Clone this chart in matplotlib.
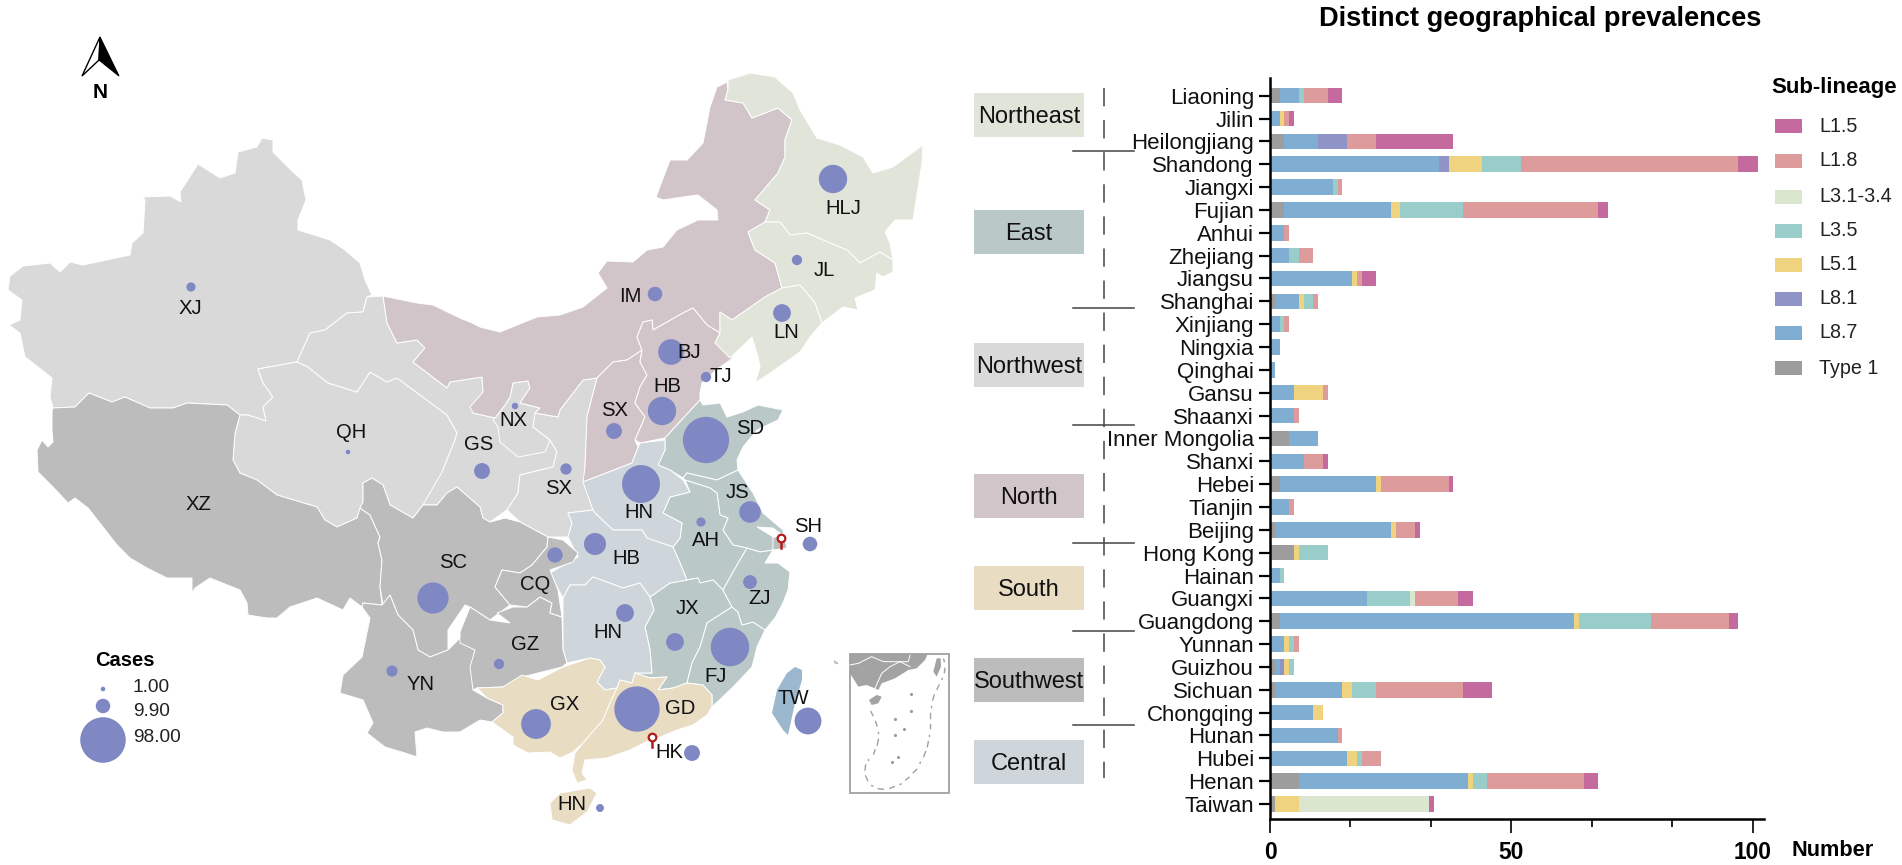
#!/usr/bin/env python3
import numpy as np
import matplotlib
matplotlib.use("Agg")
import matplotlib.pyplot as plt
from matplotlib.patches import Polygon, Rectangle

plt.rcParams['font.family'] = ['Liberation Sans', 'DejaVu Sans']

# bars: one row per province, top to bottom
provinces = ["Liaoning", "Jilin", "Heilongjiang", "Shandong", "Jiangxi", "Fujian", "Anhui",
             "Zhejiang", "Jiangsu", "Shanghai", "Xinjiang", "Ningxia", "Qinghai", "Gansu",
             "Shaanxi", "Inner Mongolia", "Shanxi", "Hebei", "Tianjin", "Beijing", "Hong Kong",
             "Hainan", "Guangxi", "Guangdong", "Yunnan", "Guizhou", "Sichuan", "Chongqing",
             "Hunan", "Hubei", "Henan", "Taiwan"]
type1 = [2, 0, 3, 0, 0, 3, 0, 0, 0, 1, 0, 0, 0, 0, 0, 4, 0, 2, 0, 1, 5, 0, 0, 2, 0, 1, 1, 0, 0, 0, 6, 1]
l87 = [4, 2, 7, 35, 13, 22, 3, 4, 17, 5, 2, 2, 1, 5, 5, 6, 7, 20, 4, 24, 0, 2, 20, 61, 3, 1, 14, 9, 14, 16, 35, 0]
l81 = [0, 0, 6, 2, 0, 0, 0, 0, 0, 0, 0, 0, 0, 0, 0, 0, 0, 0, 0, 0, 0, 0, 0, 0, 0, 1, 0, 0, 0, 0, 0, 0]
l51 = [0, 1, 0, 7, 0, 2, 0, 0, 1, 1, 0, 0, 0, 6, 0, 0, 0, 1, 0, 1, 1, 0, 0, 1, 1, 1, 2, 2, 0, 2, 1, 5]
l35 = [1, 0, 0, 8, 1, 13, 0, 2, 0, 2, 1, 0, 0, 0, 0, 0, 0, 0, 0, 0, 6, 1, 9, 15, 1, 1, 5, 0, 0, 1, 3, 0]
l31 = [0, 0, 0, 0, 0, 0, 0, 0, 0, 0, 0, 0, 0, 0, 0, 0, 0, 0, 0, 0, 0, 0, 1, 0, 0, 0, 0, 0, 0, 0, 0, 27]
l18 = [5, 1, 6, 45, 1, 28, 1, 3, 1, 1, 1, 0, 0, 1, 1, 0, 4, 14, 1, 4, 0, 0, 9, 16, 1, 0, 18, 0, 1, 4, 20, 0]
l15 = [3, 1, 16, 4, 0, 2, 0, 0, 3, 0, 0, 0, 0, 0, 0, 0, 1, 1, 0, 1, 0, 0, 3, 2, 0, 0, 6, 0, 0, 0, 3, 1]

stack_names = ["Type 1", "L8.7", "L8.1", "L5.1", "L3.5", "L3.1-3.4", "L1.8", "L1.5"]
stack_values = [type1, l87, l81, l51, l35, l31, l18, l15]
stack_colors = ["#9d9d9d", "#80aed3", "#9093c6", "#f0d37e", "#99cdc9", "#dbe6cf", "#dd9b9b", "#c56a9f"]
legend_order = ["L1.5", "L1.8", "L3.1-3.4", "L3.5", "L5.1", "L8.1", "L8.7", "Type 1"]

regions = ["Northeast", "East", "Northwest", "North", "South", "Southwest", "Central"]
region_colors = ["#e1e5d9", "#bac8c8", "#d9d9d9", "#d2c5c9", "#e8dcc3", "#bcbcbc", "#ced5db"]
region_box_y = [93, 210, 343, 474, 566, 658, 740]
region_rules = [151, 308, 425, 543, 631, 725]
legend_y = [126, 161, 197, 231, 265, 299, 333, 368]

# map outlines, in image pixels
XJ = [(262,138),(273,140),(273,152),(293,172),(302,180),(306,200),(298,220),(298,230),(330,240),(345,250),(360,263),(365,280),(372,295),(367,297),(363,312),(347,313),(325,330),(310,333),(297,362),(258,369),(263,383),(273,397),(263,407),(266,421),(248,415),(240,415),(227,405),(187,403),(173,408),(150,408),(125,397),(112,402),(89,393),(75,407),(53,408),(50,397),(52,378),(33,363),(25,357),(20,333),(9,325),(20,320),(22,300),(8,290),(10,276),(23,266),(50,263),(60,272),(70,262),(83,265),(130,255),(132,243),(143,233),(145,200),(142,197),(170,196),(181,202),(180,192),(198,164),(220,178),(235,173),(238,152),(257,147)]
QH = [(258,369),(297,362),(308,367),(328,383),(357,392),(370,372),(387,382),(397,378),(420,395),(447,415),(457,433),(455,440),(442,472),(447,488),(437,505),(423,505),(413,518),(390,505),(383,485),(372,478),(363,483),(363,502),(357,518),(337,527),(325,520),(317,507),(277,495),(257,480),(240,473),(233,460),(235,433),(240,415),(248,415),(266,421),(263,407),(273,397),(263,383)]
GS = [(367,297),(383,296),(387,323),(397,343),(417,340),(425,348),(413,362),(447,388),(450,382),(482,377),(483,392),(472,407),(473,413),(495,418),(505,405),(510,397),(513,383),(528,381),(530,388),(520,403),(540,408),(535,413),(533,427),(550,440),(557,452),(553,467),(520,475),(518,493),(507,510),(490,522),(483,518),(480,507),(457,487),(447,493),(437,505),(423,505),(442,472),(455,440),(457,433),(447,415),(420,395),(397,378),(387,382),(370,372),(357,392),(328,383),(308,367),(297,362),(310,333),(325,330),(347,313),(363,312)]
NX = [(513,383),(528,381),(530,388),(520,403),(540,408),(535,413),(533,427),(550,440),(545,452),(518,457),(500,442),(498,427),(493,420),(505,405),(510,397)]
SN = [(597,378),(583,380),(560,410),(558,417),(535,413),(533,427),(550,440),(557,452),(553,467),(520,475),(518,493),(507,510),(520,522),(548,537),(568,537),(572,523),(568,513),(593,510),(585,483),(585,467),(587,417)]
IM = [(383,296),(417,303),(433,305),(460,318),(470,322),(480,327),(500,332),(537,317),(560,315),(583,307),(607,288),(598,273),(607,261),(633,262),(647,250),(663,247),(677,230),(698,220),(718,220),(717,210),(698,195),(683,197),(663,200),(656,197),(670,160),(687,160),(703,143),(710,107),(717,87),(727,82),(728,90),(725,100),(743,103),(752,118),(778,108),(792,120),(785,140),(785,157),(778,173),(755,200),(770,210),(765,222),(748,232),(755,250),(775,263),(782,288),(765,297),(732,320),(720,312),(720,333),(707,325),(693,308),(683,313),(653,330),(652,320),(643,322),(637,337),(642,350),(627,360),(613,362),(597,378),(583,380),(560,410),(558,417),(535,413),(540,408),(520,403),(530,388),(528,381),(513,383),(510,397),(505,405),(495,418),(473,413),(470,407),(483,392),(482,377),(450,382),(447,388),(413,362),(425,348),(417,340),(397,343),(387,323)]
SX = [(597,378),(613,362),(627,360),(642,350),(640,362),(647,375),(640,387),(635,403),(645,417),(635,440),(638,447),(637,450),(632,463),(583,482),(585,467),(587,417)]
HE = [(643,322),(652,320),(653,330),(683,313),(693,308),(707,325),(720,333),(715,343),(733,358),(716,370),(702,383),(700,393),(700,400),(665,438),(640,443),(635,440),(645,417),(635,403),(640,387),(647,375),(640,362),(642,350),(637,337)]
HLJ = [(728,80),(750,73),(775,77),(793,93),(800,110),(817,138),(840,145),(863,157),(873,173),(893,167),(923,145),(922,163),(913,220),(895,220),(885,232),(890,243),(893,260),(880,252),(860,263),(847,250),(830,243),(807,233),(790,235),(780,222),(765,222),(770,210),(755,200),(778,173),(785,157),(785,140),(792,120),(778,108),(752,118),(743,103),(725,100),(728,90)]
JL = [(748,232),(765,222),(780,222),(790,235),(807,233),(830,243),(847,250),(860,263),(880,252),(893,260),(893,272),(883,277),(890,282),(877,273),(875,290),(855,298),(858,310),(843,307),(822,323),(815,303),(800,285),(782,288),(775,263),(755,250)]
LN = [(782,288),(800,285),(815,303),(822,323),(810,337),(800,352),(770,373),(755,383),(760,367),(758,357),(752,337),(730,358),(715,343),(720,333),(720,312),(732,320),(765,297)]
SD = [(700,400),(703,405),(720,403),(727,417),(743,412),(758,405),(783,410),(778,420),(757,430),(743,447),(737,460),(738,470),(717,480),(687,473),(683,478),(670,470),(658,465),(665,450),(665,438)]
HA = [(583,482),(632,463),(637,450),(640,443),(665,440),(665,450),(658,465),(670,470),(683,480),(690,492),(670,497),(663,513),(682,523),(680,538),(673,547),(647,538),(642,530),(613,530),(595,513),(593,510)]
HB = [(568,513),(593,510),(595,513),(613,530),(642,530),(647,538),(673,547),(680,563),(687,580),(670,583),(650,597),(640,583),(623,588),(607,582),(593,577),(585,585),(570,585),(563,598),(557,587),(550,573),(578,557),(568,537),(572,523)]
CQ = [(548,537),(563,540),(578,553),(573,562),(550,570),(558,590),(562,617),(550,613),(552,603),(540,597),(527,607),(510,605),(495,587),(502,570),(520,573),(532,565),(547,547)]
XZ = [(53,408),(75,407),(89,393),(112,402),(125,397),(150,408),(173,408),(187,403),(227,405),(240,415),(235,433),(233,460),(240,473),(257,480),(277,495),(317,507),(325,520),(337,527),(357,518),(360,508),(370,515),(380,537),(378,543),(382,560),(380,587),(382,605),(363,603),(362,607),(350,598),(343,610),(317,598),(290,607),(277,618),(267,618),(248,615),(247,603),(240,590),(210,578),(195,588),(192,593),(192,578),(167,578),(147,568),(130,558),(117,545),(103,527),(88,508),(75,498),(68,503),(53,487),(38,472),(37,450),(42,440),(48,447),(53,442),(52,430),(52,412)]
SC = [(372,478),(383,485),(390,505),(413,518),(423,505),(437,505),(447,493),(457,487),(480,507),(483,518),(490,522),(505,518),(520,522),(548,537),(547,547),(532,565),(520,573),(502,570),(495,587),(510,605),(490,620),(470,607),(465,605),(448,630),(448,650),(430,657),(418,650),(413,630),(398,615),(390,595),(383,605),(380,587),(382,560),(378,543),(380,537),(370,515),(360,508),(363,502),(363,483)]
YN = [(363,603),(382,605),(390,595),(398,615),(413,630),(418,650),(430,657),(448,650),(460,638),(470,647),(475,650),(472,665),(478,677),(473,690),(487,698),(503,705),(503,713),(492,722),(480,720),(460,732),(443,732),(427,728),(415,732),(417,757),(405,753),(385,747),(367,733),(373,723),(363,700),(340,693),(343,675),(362,657),(370,618),(362,607)]
GZ = [(460,632),(470,607),(490,620),(510,623),(497,613),(513,607),(527,607),(540,597),(552,603),(550,613),(562,617),(563,650),(567,663),(562,667),(522,677),(503,687),(477,688),(473,690),(470,667),(475,650),(460,643)]
GX = [(477,688),(503,687),(522,675),(538,680),(563,667),(590,658),(600,660),(605,667),(597,682),(605,690),(617,688),(610,703),(603,720),(583,743),(573,752),(560,758),(550,752),(528,753),(513,745),(513,737),(492,722),(503,713),(503,705),(487,698)]
GD = [(617,688),(620,680),(632,683),(635,673),(650,678),(667,677),(658,690),(673,688),(687,683),(703,685),(712,695),(712,707),(707,715),(693,725),(677,730),(660,737),(650,740),(630,750),(607,758),(585,760),(582,773),(587,780),(577,783),(572,770),(575,753),(583,743),(603,720),(610,703)]
HI = [(550,803),(560,793),(590,788),(597,793),(587,812),(570,825),(552,820)]
HN = [(563,598),(570,585),(585,585),(593,577),(607,582),(623,588),(640,583),(650,597),(654,610),(645,627),(650,650),(652,673),(635,673),(632,683),(620,680),(617,688),(605,690),(597,682),(605,667),(600,660),(590,658),(567,663),(563,650)]
JX = [(650,597),(670,583),(687,580),(698,578),(700,583),(713,580),(723,590),(732,607),(707,623),(700,647),(692,663),(687,683),(673,688),(658,690),(667,677),(650,678),(635,673),(652,673),(650,650),(645,627),(654,610)]
FJ = [(732,607),(738,612),(742,625),(753,622),(765,630),(757,647),(752,667),(733,687),(712,707),(712,695),(703,685),(687,683),(692,663),(700,647),(707,623)]
ZJ = [(723,590),(737,565),(747,548),(760,552),(773,550),(765,563),(778,563),(790,572),(788,590),(783,603),(775,618),(765,630),(753,622),(742,625),(738,612),(732,607)]
AH = [(670,497),(690,492),(685,480),(710,488),(717,493),(720,515),(728,518),(723,530),(733,545),(747,548),(737,565),(723,590),(713,580),(700,583),(698,578),(687,580),(680,563),(673,547),(680,538),(682,523),(663,513)]
JS = [(683,478),(687,473),(717,480),(738,470),(753,493),(763,513),(783,530),(785,537),(773,528),(757,527),(775,538),(773,550),(760,552),(747,548),(733,545),(723,530),(728,518),(720,515),(717,493),(710,488),(685,480)]
SH = [(773,538),(783,533),(787,548),(773,550)]
TW = [(795,667),(802,670),(802,680),(795,703),(788,735),(783,730),(772,713),(777,690),(787,673)]
islet = [(833,659),(838,662),(839,665),(834,664)]

map_shapes = [(XJ, 2), (QH, 2), (GS, 2), (NX, 2), (SN, 2),
              (IM, 3), (SX, 3), (HE, 3),
              (HLJ, 0), (JL, 0), (LN, 0),
              (SD, 1), (JS, 1), (AH, 1), (JX, 1), (FJ, 1), (ZJ, 1),
              (HA, 6), (HB, 6), (HN, 6),
              (XZ, 5), (SC, 5), (YN, 5), (GZ, 5), (CQ, 5), (SH, 5), (islet, 5),
              (GX, 4), (GD, 4), (HI, 4)]

# bubbles: abbreviation, province, bubble centre, label centre
bubble_names = ["XJ", "QH", "GS", "SX", "NX", "SC", "YN", "GZ", "CQ", "HB", "HN", "AH", "JS", "SH", "ZJ",
                "JX", "FJ", "HN", "GX", "GD", "HK", "HN", "TW", "HLJ", "JL", "LN", "IM", "BJ", "TJ", "HB", "SX", "SD"]
bubble_prov = ["Xinjiang", "Qinghai", "Gansu", "Shaanxi", "Ningxia", "Sichuan", "Yunnan", "Guizhou", "Chongqing",
               "Hubei", "Henan", "Anhui", "Jiangsu", "Shanghai", "Zhejiang", "Jiangxi", "Fujian", "Hunan", "Guangxi",
               "Guangdong", "Hong Kong", "Hainan", "Taiwan", "Heilongjiang", "Jilin", "Liaoning", "Inner Mongolia",
               "Beijing", "Tianjin", "Hebei", "Shanxi", "Shandong"]
bubble_xy = [(191,287), (348,452), (482,471), (566,469), (515,406), (433,598), (392,671), (499,664), (555,555),
             (595,544), (641,484), (701,522), (750,512), (810,544), (750,582), (675,642), (730,647), (625,613),
             (536,724), (637,709), (692,753), (600,808), (808,721), (833,179), (797,260), (782,313), (655,294),
             (671,352), (706,377), (662,411), (614,431), (706,440)]
label_xy = [(190,308), (351,433), (479,444), (559,489), (513,421), (453,563), (421,685), (525,645), (535,584),
            (626,558), (639,513), (706,541), (737,493), (808,527), (760,599), (687,609), (716,676), (608,632),
            (565,704), (680,709), (669,752), (572,805), (793,699), (843,208), (824,270), (786,333), (630,296),
            (689,352), (721,377), (667,387), (615,411), (750,429)]
extra_labels = [("XZ", 198, 505)]

size_values = [1.00, 9.90, 98.00]
size_labels = ["1.00", "9.90", "98.00"]
size_xy = [(103,689), (103,706), (103,740)]
size_label_y = [688, 711, 738]
pins = [(781,538), (652,737)]

inset_land = [(15,12),(248,12),(240,30),(215,55),(190,60),(150,85),(110,100),(100,120),(90,115),(65,105),(40,110),(15,70)]
inset_hainan = [(72,150),(95,135),(110,140),(100,160),(80,165)]
inset_tw = [(275,25),(287,25),(288,50),(275,80),(265,65)]
inset_borders = [[(15,45),(40,40),(80,20),(115,35),(165,35),(195,50)], [(90,115),(110,70),(135,50),(165,35)], [(195,15),(190,35),(165,35)]]
inset_dash = [[(78,185),(84,197)], [(92,215),(96,228)], [(100,245),(100,248)], [(100,268),(97,285)], [(90,300),(86,312)],
              [(70,328),(70,331)], [(62,345),(60,360)], [(62,378),(68,392)], [(80,407),(83,408)], [(100,416),(115,418)],
              [(135,415),(148,410)], [(165,403),(168,402)], [(182,390),(192,382)], [(205,368),(215,358)], [(225,340),(226,337)],
              [(236,320),(242,305)], [(247,290),(250,275)], [(252,258),(252,255)], [(254,235),(254,222)], [(255,205),(255,190)],
              [(257,170),(257,167)], [(263,150),(268,135)], [(276,118),(282,105)], [(291,88),(292,85)], [(298,68),(300,55)], [(298,35),(296,28)]]
inset_islets = [(197,132),(197,184),(150,207),(178,237),(151,255),(158,320),(141,336)]


def inset_px(points):
    return [(845 + x / 3, 650 + y / 3) for x, y in points]


fig = plt.figure(figsize=(19.02, 8.65), dpi=100)
ax = fig.add_axes([0, 0, 1, 1])
ax.set_xlim(0, 1902)
ax.set_ylim(865, 0)
ax.axis('off')

for shape, region in map_shapes:
    ax.add_patch(Polygon(shape, closed=True, facecolor=region_colors[region], edgecolor='white', lw=0.7))
ax.add_patch(Polygon(TW, closed=True, facecolor="#9bb8cf", edgecolor='none'))

totals = dict(zip(provinces, np.sum(stack_values, axis=0)))
CASE_AREA = (2 * 2.3 * 0.72) ** 2  # marker area for one case
bubble_color = "#8088c4"
ax.scatter([p[0] for p in bubble_xy], [p[1] for p in bubble_xy],
           s=[totals[p] * CASE_AREA for p in bubble_prov], color=bubble_color, lw=0, zorder=3)
for name, (x, y) in zip(bubble_names, label_xy):
    ax.text(x, y, name, ha='center', va='center', fontsize=14.6, color='#111111', zorder=4)
for name, x, y in extra_labels:
    ax.text(x, y, name, ha='center', va='center', fontsize=14.6, color='#111111', zorder=4)

# hong kong / shanghai pins
for x, y in pins:
    ax.plot([x, x], [y, y + 10], color="#b01c1c", lw=1.8, zorder=5)
    ax.scatter([x], [y], s=30, facecolor='white', edgecolor="#b01c1c", lw=1.6, zorder=6)

# size legend
ax.text(125, 661, "Cases", ha='center', va='center', fontsize=14.5, fontweight='bold')
ax.scatter([p[0] for p in size_xy], [p[1] for p in size_xy], s=[v * CASE_AREA for v in size_values],
           color=bubble_color, lw=0, zorder=3)
for lab, y in zip(size_labels, size_label_y):
    ax.text(133, y, lab, ha='left', va='center', fontsize=13.8, color='#222222')

# north arrow
ax.add_patch(Polygon([(100,37),(82,76),(99,60)], closed=True, facecolor='white', edgecolor='black', lw=1.0))
ax.add_patch(Polygon([(100,37),(119,76),(99,60)], closed=True, facecolor='black', edgecolor='black', lw=0.8))
ax.text(100, 93, "N", ha='center', va='center', fontsize=15, fontweight='bold')

# inset
for shape in [inset_land, inset_hainan, inset_tw]:
    ax.add_patch(Polygon(inset_px(shape), closed=True, facecolor="#a3a3a3", edgecolor='none'))
for line in inset_borders:
    pts = inset_px(line)
    ax.plot([p[0] for p in pts], [p[1] for p in pts], color='white', lw=0.7)
for line in inset_dash:
    pts = inset_px(line)
    ax.plot([p[0] for p in pts], [p[1] for p in pts], color='#a0a0a0', lw=1.0)
pts = inset_px(inset_islets)
ax.scatter([p[0] for p in pts], [p[1] for p in pts], s=5, color='#999999', lw=0)
ax.add_patch(Rectangle((850, 654), 99, 139, facecolor='none', edgecolor='#a0a0a0', lw=1.3))

# region boxes next to the bars
for name, color, y in zip(regions, region_colors, region_box_y):
    ax.add_patch(Rectangle((974, y), 110, 44, facecolor=color, edgecolor='none'))
    ax.text(1029, y + 24, name, ha='center', va='center', fontsize=17, color='#111111')
ax.plot([1104, 1104], [88, 778], color='#444444', lw=1.1, dashes=(12, 9))
for y in region_rules:
    ax.plot([1073, 1134], [y, y], color='#444444', lw=1.1)

# stacked bars
barax = fig.add_axes([1270 / 1902, 1 - 819 / 865, (1764 - 1270) / 1902, (819 - 78) / 865])
barax.patch.set_alpha(0)
rows = np.arange(len(provinces))
left = np.zeros(len(provinces))
for name, vals, color in zip(stack_names, stack_values, stack_colors):
    barax.barh(rows, vals, left=left, height=0.68, color=color, lw=0, label=name)
    left += np.array(vals)
spacing = (804 - 95.7) / (len(provinces) - 1)
barax.set_ylim((819 - 95.7) / spacing, (78 - 95.7) / spacing)
barax.set_xlim(0, 102.3)
barax.set_yticks(rows)
barax.set_yticklabels(provinces, fontsize=16, color='#111111')
barax.set_xticks([0, 50, 100])
barax.set_xticklabels(["0", "50", "100"], fontsize=16.4, fontweight='bold')
barax.set_xticks(np.array([1, 2, 4, 5]) * 100 / 6, minor=True)
barax.tick_params(axis='y', length=8, width=1.6, pad=3.6)
barax.tick_params(axis='x', which='major', length=10, width=1.2, pad=6)
barax.tick_params(axis='x', which='minor', length=5.5, width=1.2)
for side in ['top', 'right']:
    barax.spines[side].set_visible(False)
for side in ['left', 'bottom']:
    barax.spines[side].set_linewidth(1.8)

ax.text(1540, 19.5, "Distinct geographical prevalences", ha='center', va='center', fontsize=19.6, fontweight='bold')
ax.text(1833, 850, "Number", ha='center', va='center', fontsize=15.7, fontweight='bold')

# sub-lineage legend
ax.text(1771, 88, "Sub-lineage", ha='left', va='center', fontsize=16, fontweight='bold')
for name, y in zip(legend_order, legend_y):
    color = stack_colors[stack_names.index(name)]
    ax.add_patch(Rectangle((1775, y - 7), 27, 14, facecolor=color, edgecolor='none'))
    ax.text(1819, y, name, ha='left', va='center', fontsize=14.2, color='#222222')

fig.savefig("out.png", dpi=100)
